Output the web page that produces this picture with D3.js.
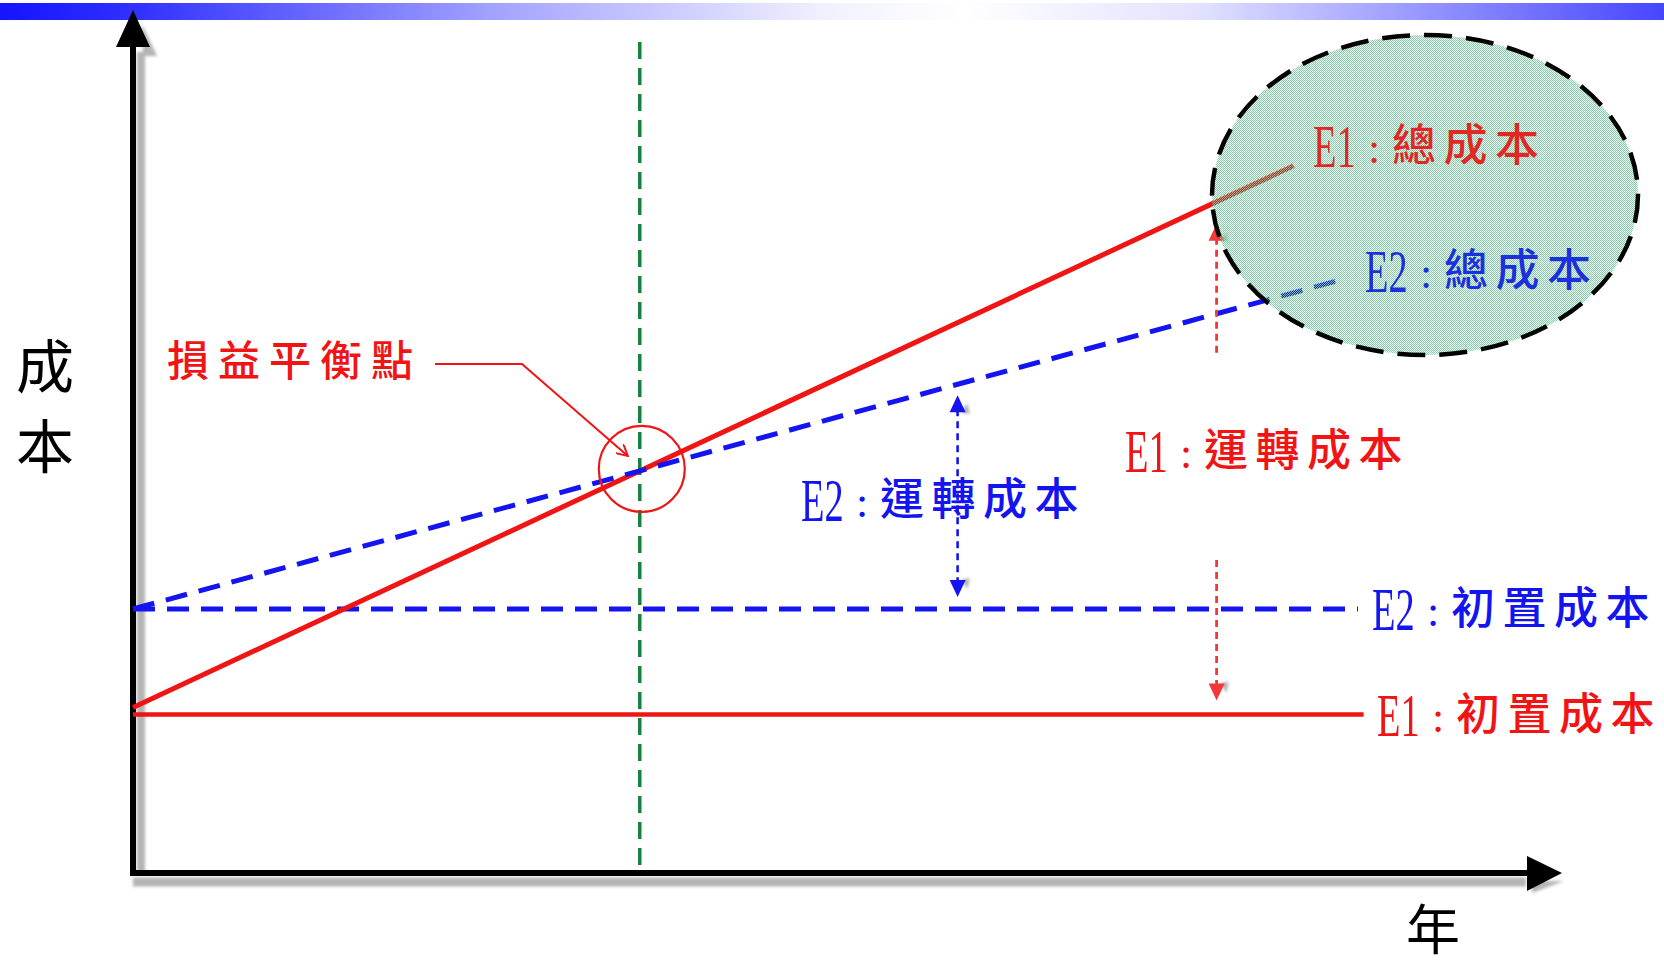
<!DOCTYPE html>
<html>
<head>
<meta charset="utf-8">
<script src="https://cdn.jsdelivr.net/npm/d3@7"></script>
<style>
  html, body { margin: 0; padding: 0; background: #ffffff; }
  svg { display: block; }
</style>
</head>
<body>
<svg id="chart" width="1664" height="966"></svg>
<script>
// ---- data (years on x, cost on y; conceptual units 0–100) ----
const e1InitialCost = [[0, 19.8], [87.9, 19.8]];
const e2InitialCost = [[0, 33], [87.5, 33]];
const e1TotalCost   = [[0, 20.7], [82.9, 88.4]];
const e2TotalCost   = [[0, 33], [86.4, 74.2]];
const runningCostYears = [58.9, 77.4];          // where the running-cost arrows sit (E2, E1)
const axisTitles = ["成本", "年"];
const breakEvenLabel = "損益平衡點";
const seriesLabels = ["E1:總成本", "E2:總成本", "E1:運轉成本", "E2:運轉成本", "E2:初置成本", "E1:初置成本"];

const RED = "#f01414", BLUE = "#1414f0", GREEN = "#13843c";

const svg = d3.select("#chart");
const x = d3.scaleLinear().domain([0, 100]).range([133, 1533]);
const y = d3.scaleLinear().domain([0, 100]).range([873, 73]);
const line = d3.line().x(d => x(d[0])).y(d => y(d[1]));

const defs = svg.append("defs");

// header band gradient
const grad = defs.append("linearGradient").attr("id", "band").attr("x1", 0).attr("x2", 1).attr("y1", 0).attr("y2", 0);
[[0, "#1414ff"], [0.08, "#3030ff"], [0.3, "#a4a4ff"], [0.5, "#f2f2ff"], [0.58, "#ffffff"], [0.72, "#e2e2ff"], [0.88, "#8888ff"], [1, "#4646ff"]]
  .forEach(([o, c]) => grad.append("stop").attr("offset", o).attr("stop-color", c));

// soft shadow
defs.append("filter").attr("id", "soft").attr("x", "-50%").attr("y", "-50%").attr("width", "200%").attr("height", "200%")
  .append("feGaussianBlur").attr("stdDeviation", 1.4);

// stipple fill for the highlight ellipse
const pat = defs.append("pattern").attr("id", "stipple").attr("width", 2).attr("height", 2).attr("patternUnits", "userSpaceOnUse");
pat.append("rect").attr("x", 0).attr("y", 0).attr("width", 1).attr("height", 1).attr("fill", "#7ad2a2");
pat.append("rect").attr("x", 1).attr("y", 1).attr("width", 1).attr("height", 1).attr("fill", "#7ad2a2");

// open arrowhead for the leader line
defs.append("marker").attr("id", "openArrow").attr("viewBox", "0 0 12 12").attr("refX", 11).attr("refY", 6)
  .attr("markerWidth", 12).attr("markerHeight", 12).attr("markerUnits", "userSpaceOnUse").attr("orient", "auto")
  .append("path").attr("d", "M0,0 L11,6 L0,12").attr("fill", "none").attr("stroke", RED).attr("stroke-width", 2);

// header band
svg.append("rect").attr("x", 0).attr("y", 3).attr("width", 1664).attr("height", 17).attr("fill", "url(#band)");

// ---- axes with drop shadow ----
const x0 = x(0), y0 = y(0);
const xTip = x.range()[1] + 29, yTip = 10;
const shadow = svg.append("g").attr("fill", "#b4b4b4").attr("stroke", "#b4b4b4").attr("filter", "url(#soft)");
shadow.append("line").attr("x1", x0 + 8).attr("x2", x0 + 8).attr("y1", yTip + 42).attr("y2", y0).attr("stroke-width", 8);
shadow.append("line").attr("x1", x0).attr("x2", xTip - 36).attr("y1", y0 + 9).attr("y2", y0 + 9).attr("stroke-width", 9);
shadow.append("path").attr("stroke", "none").attr("d", `M${x0 + 9},${yTip + 14} L${x0 + 24},${yTip + 46} L${x0 + 10},${yTip + 46} Z`);
shadow.append("path").attr("stroke", "none").attr("d", `M${xTip - 30},${y0 + 20} L${xTip + 2},${y0 + 8} L${xTip - 30},${y0 + 8} Z`);

const axes = svg.append("g");
axes.append("line").attr("x1", x0).attr("x2", x0).attr("y1", yTip + 30).attr("y2", y0 + 3)
  .attr("stroke", "#000").attr("stroke-width", 6);
axes.append("line").attr("x1", x0 - 3).attr("x2", xTip - 30).attr("y1", y0).attr("y2", y0)
  .attr("stroke", "#000").attr("stroke-width", 6);
axes.append("path").attr("fill", "#000").attr("d", `M${x0},${yTip} L${x0 + 17},${yTip + 37} L${x0 - 17},${yTip + 37} Z`);
axes.append("path").attr("fill", "#000").attr("d", `M${xTip},${y0} L${xTip - 35},${y0 - 17} L${xTip - 35},${y0 + 18} Z`);

// ---- break-even point (intersection of the two total-cost lines) ----
const slope = s => (s[1][1] - s[0][1]) / (s[1][0] - s[0][0]);
const k1 = slope(e1TotalCost), k2 = slope(e2TotalCost);
const beYear = (e2TotalCost[0][1] - e1TotalCost[0][1]) / (k1 - k2);
const beCost = e1TotalCost[0][1] + k1 * beYear;
const bx = x(beYear), by = y(beCost);

// vertical guide through the break-even year
svg.append("line").attr("x1", bx).attr("x2", bx).attr("y1", 42).attr("y2", y0)
  .attr("stroke", GREEN).attr("stroke-width", 3.5).attr("stroke-dasharray", "17 9");

// ---- cost lines ----
svg.append("path").datum(e2InitialCost).attr("d", line).attr("fill", "none")
  .attr("stroke", BLUE).attr("stroke-width", 5).attr("stroke-dasharray", "22 12");
svg.append("path").datum(e1InitialCost).attr("d", line).attr("fill", "none")
  .attr("stroke", RED).attr("stroke-width", 4.5);
svg.append("path").datum(e1TotalCost).attr("d", line).attr("fill", "none")
  .attr("stroke", RED).attr("stroke-width", 5);
svg.append("path").datum(e2TotalCost).attr("d", line).attr("fill", "none")
  .attr("stroke", BLUE).attr("stroke-width", 5).attr("stroke-dasharray", "22 12");

// circle + leader at the break-even point
svg.append("circle").attr("cx", bx + 2).attr("cy", by - 2).attr("r", 43)
  .attr("fill", "none").attr("stroke", RED).attr("stroke-width", 2.2);
svg.append("polyline")
  .attr("points", `435,364 522,364 ${bx - 12},${by - 15}`)
  .attr("fill", "none").attr("stroke", RED).attr("stroke-width", 2).attr("marker-end", "url(#openArrow)");

// ---- running-cost arrows ----
function arrowHead(g, cx, tipY, dir, color) {
  // dir = -1 points up, +1 points down
  const base = tipY - dir * 17;
  g.append("path").attr("fill", "#b0b0b0").attr("filter", "url(#soft)")
    .attr("d", `M${cx + 3},${base} L${cx + 12},${base - dir * 2} L${cx + 10},${base + dir * 9} Z`);
  g.append("path").attr("fill", color)
    .attr("d", `M${cx},${tipY} L${cx + 8},${base} L${cx - 8},${base} Z`);
}
const arrows = svg.append("g");
{
  // E2: between E2 total and E2 initial
  const ax = x(runningCostYears[0]);
  const top = y(e2TotalCost[0][1] + k2 * runningCostYears[0]) + 11;
  const bot = y(e2InitialCost[0][1]) - 12;
  arrows.append("line").attr("x1", ax).attr("x2", ax).attr("y1", top + 14).attr("y2", bot - 14)
    .attr("stroke", BLUE).attr("stroke-width", 2.6).attr("stroke-dasharray", "7 5");
  arrowHead(arrows, ax, top, -1, BLUE);
  arrowHead(arrows, ax, bot, 1, BLUE);
}
{
  // E1: between E1 total and E1 initial, split around its label
  const ax = x(runningCostYears[1]);
  const top = y(e1TotalCost[0][1] + k1 * runningCostYears[1]) + 22;
  const bot = y(e1InitialCost[0][1]) - 14;
  arrows.append("line").attr("x1", ax).attr("x2", ax).attr("y1", top + 14).attr("y2", 355)
    .attr("stroke", "#f03a3a").attr("stroke-width", 2.8).attr("stroke-dasharray", "7 5");
  arrows.append("line").attr("x1", ax).attr("x2", ax).attr("y1", 560).attr("y2", bot - 14)
    .attr("stroke", "#f03a3a").attr("stroke-width", 2.8).attr("stroke-dasharray", "7 5");
  arrowHead(arrows, ax, top, -1, "#f03a3a");
  arrowHead(arrows, ax, bot, 1, "#f03a3a");
}

// ---- highlight ellipse around the total-cost line ends ----
svg.append("ellipse").attr("cx", 1425).attr("cy", 195).attr("rx", 213).attr("ry", 160)
  .attr("fill", "url(#stipple)").attr("stroke", "#000").attr("stroke-width", 4.5).attr("stroke-dasharray", "28 14");

// ---- text ----
const LATIN = '"Liberation Serif", serif';
const CJK = '"Noto Sans CJK TC", "Noto Sans CJK SC", sans-serif';
const labels = [
  { t: seriesLabels[0], x: 1313, y: 146, c: "#e02828" },
  { t: seriesLabels[1], x: 1365, y: 271, c: "#1c30dc" },
  { t: seriesLabels[2], x: 1125, y: 451, c: RED },
  { t: seriesLabels[3], x: 801,  y: 500, c: BLUE },
  { t: seriesLabels[4], x: 1372, y: 609, c: BLUE },
  { t: seriesLabels[5], x: 1377, y: 715, c: RED }
];
const lg = svg.append("g").selectAll("g").data(labels).join("g")
  .attr("transform", d => `translate(${d.x},${d.y})`)
  .attr("fill", d => d.c);
// narrow, tall series code ("E1" / "E2")
lg.append("text").attr("transform", "translate(0,21) scale(0.62,1)")
  .style("font-family", LATIN).style("font-size", "62px")
  .text(d => d.t.split(":")[0]);
// colon
lg.append("text").attr("x", 61).attr("y", 17).attr("text-anchor", "middle")
  .style("font-family", LATIN).style("font-size", "44px")
  .text(":");
// Chinese name
lg.append("text").attr("x", 79).attr("y", 15)
  .style("font-family", CJK).style("font-size", "44px")
  .style("font-weight", 500).style("letter-spacing", "7.5px")
  .text(d => d.t.split(":")[1]);

svg.append("text").attr("x", 167).attr("y", 376).attr("fill", RED)
  .style("font-family", CJK).style("font-size", "42px").style("font-weight", 500).style("letter-spacing", "9px")
  .text(breakEvenLabel);

// axis titles
svg.append("g").selectAll("text").data(axisTitles[0].split("")).join("text")
  .attr("x", 45).attr("y", (d, i) => 388 + i * 80).attr("text-anchor", "middle")
  .attr("fill", "#000").style("font-family", CJK).style("font-size", "58px")
  .text(d => d);
svg.append("text").attr("x", 1433).attr("y", 950).attr("text-anchor", "middle")
  .attr("fill", "#000").style("font-family", CJK).style("font-size", "54px")
  .text(axisTitles[1]);
</script>
</body>
</html>
